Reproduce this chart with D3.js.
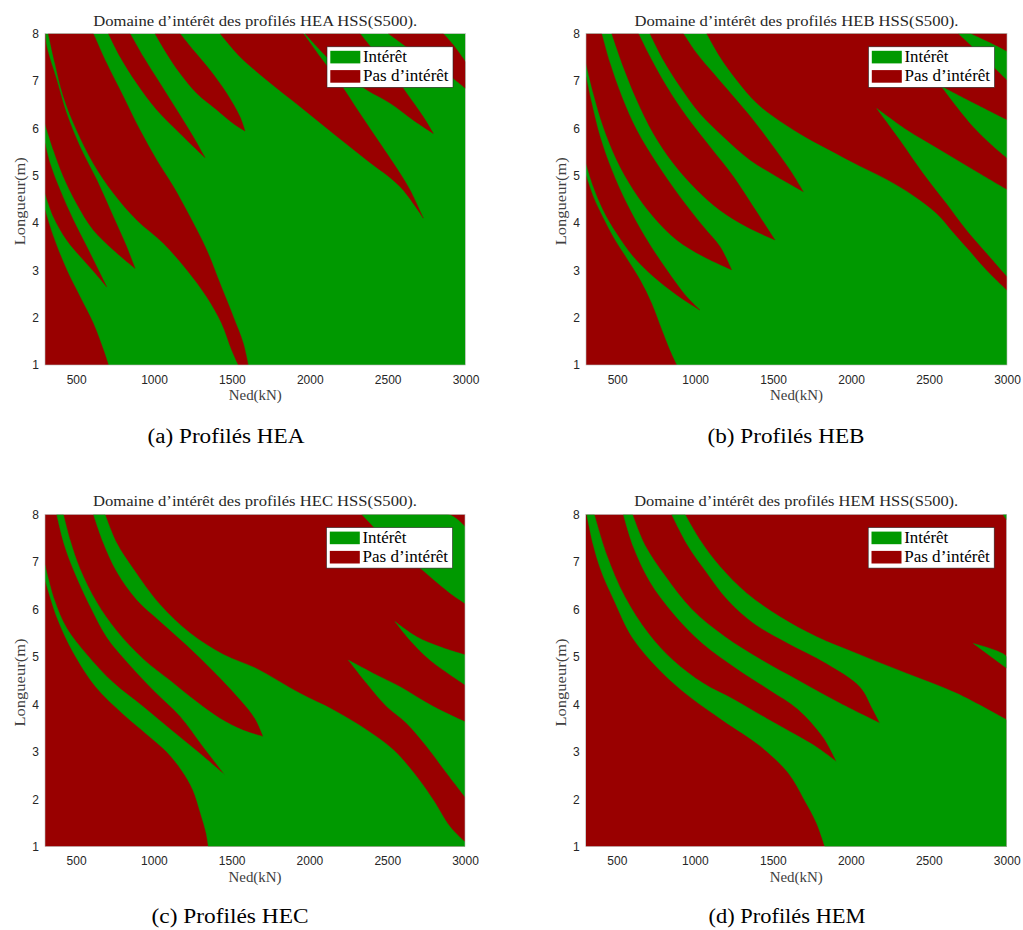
<!DOCTYPE html>
<html><head><meta charset="utf-8">
<script src="https://cdn.jsdelivr.net/npm/d3@7"></script>
<style>body{margin:0;background:#fff}</style>
</head><body>
<svg id="chart" width="1023" height="930"></svg>
<script>
// ---------- data ----------
const xTicks = [500, 1000, 1500, 2000, 2500, 3000];
const yTicks = [1, 2, 3, 4, 5, 6, 7, 8];
const xDomain = [300, 3000];
const yDomain = [1, 8];
const legendLabels = ["Intérêt", "Pas d’intérêt"];
const profileNames = ["HEA", "HEB", "HEC", "HEM"];
const captionLetters = ["a", "b", "c", "d"];
const xLabel = "Ned(kN)";
const yLabel = "Longueur(m)";

// Each region = list of boundary pieces, points are [Ned (kN), Longueur (m)]
// Panel HEA : background = Intérêt, regions = Pas d'intérêt
const heaNoTop = [[[300,8],[311,7.72],[375,7.02],[439,6.31],[525,5.61],[632,4.91],[739,4.13],[824,3.50],[878,3.04]],
                  [[878,3.04],[739,3.43],[610,3.85],[503,4.41],[418,4.98],[354,5.54],[300,6.10]]];
const heaNoW1 = [[[300,5.68],[332,5.26],[396,4.70],[482,4.06],[568,3.50],[642,3.01],[696,2.65]],
                 [[696,2.65],[632,2.90],[546,3.22],[439,3.64],[354,4.13],[300,4.63]]];
const heaNoLow = [[[300,4.27],[354,3.71],[439,3.01],[525,2.44],[610,1.88],[675,1.32],[707,1.0]],
                  [[707,1],[300,1]]];
const heaNoBig = [[[321,8],[364,7.37],[418,6.67],[503,5.96],[610,5.26],[739,4.63],[889,4.06],[1060,3.57],[1210,3.01],[1338,2.44],[1434,1.88],[1498,1.32],[1541,1.0]],
                  [[1605,1.0],[1573,1.46],[1509,2.02],[1424,2.72],[1338,3.43],[1231,4.13],[1124,4.77],[1017,5.33],[910,5.96],[803,6.67],[696,7.37],[610,8]]];
const heaNoW3 = [[[707,8],[782,7.51],[889,6.95],[1017,6.39],[1167,5.89],[1327,5.38]],
                 [[1327,5.38],[1252,5.82],[1145,6.39],[1038,6.95],[931,7.51],[846,8]]];
const heaNoW4 = [[[1006,8],[1081,7.58],[1167,7.16],[1274,6.74],[1402,6.39],[1509,6.10],[1584,5.94]],
                 [[1584,5.94],[1552,6.24],[1466,6.74],[1359,7.23],[1252,7.65],[1167,8]]];
const heaNoW5 = [[[1424,8],[1552,7.51],[1723,7.02],[1937,6.46],[2151,5.89],[2365,5.33],[2579,4.77],[2729,4.10]],
                 [[2729,4.10],[2643,4.70],[2579,5.05],[2451,5.68],[2322,6.31],[2194,6.95],[2066,7.51],[1959,8]]];
const heaNoW6 = [[[1969,8],[2087,7.58],[2216,7.16],[2365,6.81],[2515,6.53],[2665,6.17],[2793,5.89]],
                 [[2793,5.89],[2729,6.24],[2622,6.74],[2515,7.23],[2408,7.65],[2323,8]]];
const heaNoW7 = [[[2504,8],[2622,7.72],[2750,7.44],[2879,7.16],[3000,6.84]],
                 [[3000,7.40],[2921,7.76],[2857,8]]];

// Panel HEB : background = Intérêt
const hebNoLow = [[[300,5.0],[347,4.55],[411,4.1],[475,3.7],[561,3.25],[646,2.8],[721,2.3],[785,1.75],[839,1.3],[881,1.0]],
                  [[881,1],[300,1]]];
const hebNoW1 = [[[300,7.09],[336,6.53],[390,5.82],[465,5.12],[561,4.41],[678,3.71],[817,3.01],[946,2.44],[1031,2.16]],
                 [[1031,2.16],[882,2.48],[732,2.87],[604,3.29],[497,3.78],[411,4.27],[347,4.77],[300,5.26]]];
const hebNoTop = [[[400,8],[454,7.37],[529,6.67],[625,5.96],[753,5.26],[903,4.55],[1053,3.92],[1159,3.50],[1234,3.01]],
                  [[1234,3.01],[1053,3.29],[882,3.64],[732,4.13],[604,4.70],[497,5.33],[411,6.03],[347,6.74],[300,7.37]],
                  [[300,8]]];
const hebNoW3 = [[[465,8],[539,7.30],[625,6.60],[732,5.89],[860,5.26],[1010,4.70],[1159,4.27],[1330,3.92],[1512,3.64]],
                 [[1512,3.64],[1373,4.34],[1245,4.98],[1095,5.61],[946,6.24],[817,6.88],[710,7.51],[636,8]]];
const hebNoW4 = [[[710,8],[796,7.44],[903,6.88],[1031,6.31],[1181,5.82],[1352,5.33],[1523,4.98],[1694,4.66]],
                 [[1694,4.66],[1608,5.12],[1501,5.61],[1373,6.17],[1245,6.67],[1117,7.16],[1010,7.58],[924,8]]];
const hebNoBig = [[[1074,8],[3000,8],[3000,2.58]],
                  [[3000,2.58],[2870,3.0],[2763,3.4],[2656,3.8],[2549,4.2],[2399,4.58],[2228,4.92],[2057,5.2],[1886,5.5],[1715,5.8],[1544,6.15],[1395,6.53],[1266,7.02],[1159,7.51],[1074,8]]];
const hebYesA = [[[2164,6.42],[2357,5.96],[2570,5.54],[2784,5.12],[3000,4.70]],
                 [[3000,2.87],[2870,3.36],[2741,3.85],[2613,4.41],[2463,5.05],[2314,5.75],[2164,6.42]]];
const hebYesB = [[[2580,6.88],[2784,6.53],[3000,6.17]],
                 [[3000,5.37],[2891,5.68],[2784,6.03],[2677,6.46],[2580,6.88]]];
const hebYesC = [[[2763,8],[2880,7.82],[3000,7.62]],
                 [[3000,7.02],[2840,7.53],[2688,8]]];

// Panel HEC : background = Pas d'intérêt, regions = Intérêt
const hecYesMain = [[[300,6.93],[360,6.2],[440,5.6],[568,5.05],[740,4.45],[930,3.95],[1125,3.42],[1300,2.95],[1457,2.51]],
                    [[1457,2.51],[1318,3.1],[1168,3.75],[996,4.3],[825,4.9],[700,5.4],[600,6.0],[500,6.7],[425,7.35],[375,8]],
                    [[418,8],[461,7.46],[525,6.85],[632,6.15],[760,5.55],[932,4.95],[1104,4.5],[1275,4.05],[1425,3.7],[1575,3.45],[1703,3.32]],
                    [[1703,3.32],[1650,3.7],[1554,4.1],[1382,4.7],[1210,5.25],[1039,5.75],[890,6.2],[760,6.8],[675,7.4],[611,8]],
                    [[686,8],[760,7.4],[868,6.85],[1039,6.1],[1232,5.5],[1446,5.05],[1661,4.75],[1939,4.23],[2154,3.88],[2368,3.46],[2539,3.04],[2689,2.48],[2797,1.98],[2904,1.42],[3000,1.1]],
                    [[3000,1],[1350,1]],
                    [[1350,1],[1335,1.3],[1300,1.7],[1250,2.2],[1180,2.6],[1082,3.0],[950,3.38],[800,3.8],[630,4.35],[480,5.1],[380,5.8],[300,6.62]]];
const hecYesTop = [[[2336,8],[2893,8],[3000,7.74]],
                   [[3000,6.125],[2904,6.34],[2775,6.69],[2625,7.11],[2475,7.53],[2336,8]]];
const hecYesW2 = [[[2550,5.74],[2689,5.42],[2839,5.21],[3000,5.04]],
                  [[3000,4.41],[2904,4.62],[2775,4.93],[2646,5.35],[2550,5.74]]];
const hecYesW1 = [[[2250,4.93],[2411,4.65],[2582,4.37],[2797,3.95],[3000,3.63]],
                  [[3000,2.05],[2882,2.55],[2754,3.11],[2625,3.6],[2497,3.95],[2368,4.44],[2250,4.93]]];

// Panel HEM : background = Pas d'intérêt
const hemYesMain = [[[306,8],[349,7.35],[400,6.8],[480,6.2],[600,5.4],[780,4.7],[970,4.15],[1180,3.66],[1420,3.12],[1600,2.55],[1700,2.0],[1780,1.5],[1834,1.0]],
                    [[1834,1],[3000,1],[3000,3.67]],
                    [[3000,3.67],[2679,4.23],[2359,4.65],[2038,5.07],[1781,5.42],[1546,5.84],[1332,6.34],[1161,6.9],[1033,7.46],[937,8]],
                    [[851,8],[950,7.37],[1070,6.8],[1210,6.2],[1380,5.7],[1589,5.3],[1845,4.86],[2059,4.37],[2140,3.9],[2187,3.6]],
                    [[2187,3.6],[1931,4.02],[1664,4.5],[1428,4.93],[1193,5.42],[980,6.0],[810,6.7],[680,7.35],[600,8]],
                    [[541,8],[605,7.32],[712,6.58],[870,5.88],[1050,5.28],[1265,4.76],[1480,4.3],[1660,3.9],[1824,3.3],[1909,2.79]],
                    [[1909,2.79],[1780,3.1],[1650,3.35],[1460,3.7],[1250,4.1],[1054,4.44],[862,4.92],[700,5.5],[550,6.27],[434,7.15],[355,8]]];
const hemYesSmall = [[[2786,5.28],[3000,5.0],[3000,4.76]]];
const hemYesCorner = [[[2975,8],[3000,8],[3000,7.88]]];

// ---------- styles / layout ----------
const GREEN = "#009900", RED = "#990000";
const panels = [
  {box:{x0:45, x1:465.5, y0:33.5, y1:365}, bg:GREEN, layers:[
    {c:RED, p:[heaNoTop, heaNoW1, heaNoLow, heaNoBig, heaNoW3, heaNoW4, heaNoW5, heaNoW6, heaNoW7]}], cap:{x:226, y:443}},
  {box:{x0:586, x1:1007, y0:33.5, y1:365}, bg:GREEN, layers:[
    {c:RED, p:[hebNoLow, hebNoW1, hebNoTop, hebNoW3, hebNoW4, hebNoBig]},
    {c:GREEN, p:[hebYesA, hebYesB, hebYesC]}], cap:{x:786, y:443}},
  {box:{x0:45, x1:465, y0:514.3, y1:846.7}, bg:RED, layers:[
    {c:GREEN, p:[hecYesMain, hecYesTop, hecYesW2, hecYesW1]}], cap:{x:230, y:923}},
  {box:{x0:585.7, x1:1006.7, y0:514.3, y1:846.7}, bg:RED, layers:[
    {c:GREEN, p:[hemYesMain, hemYesSmall, hemYesCorner]}], cap:{x:787, y:923}}
];

const svg = d3.select("#chart");
const serif = "'Liberation Serif', 'Times New Roman', serif";
const sans = "'Liberation Sans', Arial, sans-serif";

panels.forEach((P, i) => {
  const b = P.box;
  const x = d3.scaleLinear().domain(xDomain).range([b.x0, b.x1]);
  const y = d3.scaleLinear().domain(yDomain).range([b.y1, b.y0]);
  const g = svg.append("g");
  const clipId = "clip" + i;
  const rx = x(xDomain[0]), ry = y(yDomain[1]);
  const rw = x(xDomain[1]) - rx, rh = y(yDomain[0]) - ry;
  g.append("clipPath").attr("id", clipId).append("rect")
    .attr("x", rx).attr("y", ry).attr("width", rw).attr("height", rh);
  const plot = g.append("g").attr("clip-path", `url(#${clipId})`);
  plot.append("rect").attr("x", rx).attr("y", ry).attr("width", rw).attr("height", rh).attr("fill", P.bg);

  const smooth = d3.line().x(d => x(d[0])).y(d => y(d[1])).curve(d3.curveCatmullRom.alpha(0.5));
  const regionPath = segs => segs.map((s, k) => {
    const d = s.length > 1 ? smooth(s) : `M${x(s[0][0])},${y(s[0][1])}`;
    return k === 0 ? d : "L" + d.slice(1);
  }).join("") + "Z";

  P.layers.forEach(L => {
    plot.selectAll(null).data(L.p).enter().append("path")
      .attr("d", regionPath).attr("fill", L.c).attr("stroke", L.c).attr("stroke-width", 0.4);
  });
  g.append("rect").attr("x", rx).attr("y", ry).attr("width", rw).attr("height", rh)
    .attr("fill", "none").attr("stroke", "#b8b8b8").attr("stroke-width", 0.6);

  // axes
  const ax = g.append("g").attr("transform", `translate(0,${y(yDomain[0])})`)
    .call(d3.axisBottom(x).tickValues(xTicks).tickFormat(d3.format("d")).tickSize(0).tickPadding(10));
  const ay = g.append("g").attr("transform", `translate(${x(xDomain[0])},0)`)
    .call(d3.axisLeft(y).tickValues(yTicks).tickFormat(d3.format("d")).tickSize(0).tickPadding(6));
  [ax, ay].forEach(a => {
    a.select(".domain").remove();
    a.selectAll("text").attr("font-family", sans).attr("font-size", 12).attr("fill", "#262626");
  });

  // title
  g.append("text").attr("x", (b.x0 + b.x1) / 2).attr("y", b.y0 - 8)
    .attr("text-anchor", "middle").attr("font-family", serif).attr("font-size", 15)
    .attr("fill", "#262626")
    .attr("textLength", 324).attr("lengthAdjust", "spacingAndGlyphs")
    .text(`Domaine d’intérêt des profilés ${profileNames[i]} HSS(S500).`);
  // x label
  g.append("text").attr("x", (b.x0 + b.x1) / 2).attr("y", b.y1 + 35)
    .attr("text-anchor", "middle").attr("font-family", serif).attr("font-size", 15)
    .attr("fill", "#404040").attr("textLength", 53).attr("lengthAdjust", "spacingAndGlyphs").text(xLabel);
  // y label
  g.append("text").attr("transform", `translate(${b.x0 - 20},${(b.y0 + b.y1) / 2 + 2}) rotate(-90)`)
    .attr("text-anchor", "middle").attr("font-family", serif).attr("font-size", 15)
    .attr("fill", "#404040").attr("textLength", 88).attr("lengthAdjust", "spacingAndGlyphs").text(yLabel);

  // legend
  const lg = g.append("g").attr("transform", `translate(${b.x1 - 12.5 - 126},${b.y0 + 13.3})`);
  lg.append("rect").attr("width", 126).attr("height", 40.5).attr("fill", "#fff")
    .attr("stroke", "#262626").attr("stroke-width", 0.6);
  [GREEN, RED].forEach((c, k) => {
    lg.append("rect").attr("x", 3.3).attr("y", 4 + k * 19.3).attr("width", 30).attr("height", 12.6).attr("fill", c);
    lg.append("text").attr("x", 36).attr("y", 15 + k * 19.3)
      .attr("font-family", serif).attr("font-size", 16).attr("fill", "#000")
      .attr("textLength", k === 0 ? 44 : 85.6).attr("lengthAdjust", "spacingAndGlyphs")
      .text(legendLabels[k]);
  });

  // caption
  svg.append("text").attr("x", P.cap.x).attr("y", P.cap.y).attr("text-anchor", "middle")
    .attr("font-family", serif).attr("font-size", 20).attr("fill", "#000")
    .attr("textLength", 157).attr("lengthAdjust", "spacingAndGlyphs")
    .text(`(${captionLetters[i]}) Profilés ${profileNames[i]}`);
});
</script>
</body></html>
